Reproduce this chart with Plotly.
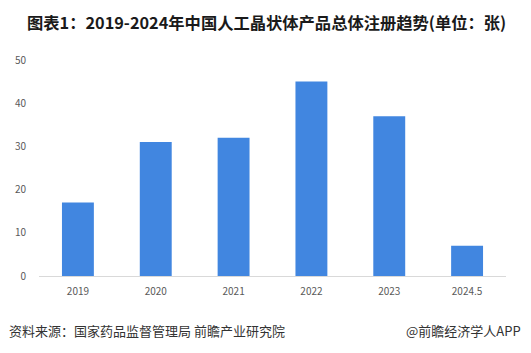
import plotly.graph_objects as go

categories = ["2019", "2020", "2021", "2022", "2023", "2024.5"]
values = [17, 31, 32, 45, 37, 7]
y_ticks = [0, 10, 20, 30, 40, 50]

font_cjk = "Microsoft YaHei, Noto Sans CJK SC, sans-serif"

W, H = 531, 353
L, R, T, B = 39, 25, 60, 77
pw, ph = W - L - R, H - T - B


def px(x):
    return (x - L) / pw


def py(y):
    return (H - B - y) / ph


fig = go.Figure(go.Bar(
    x=categories, y=values,
    marker=dict(color="#4186E0", line=dict(width=0)),
))

fig.update_layout(
    width=W, height=H,
    margin=dict(l=L, r=R, t=T, b=B),
    paper_bgcolor="white", plot_bgcolor="white",
    bargap=0.59,
    showlegend=False,
    font=dict(family=font_cjk, color="#595959", size=10),
    xaxis=dict(
        type="category", showgrid=False, showline=True, linecolor="#D9D9D9",
        linewidth=1, ticks="", tickfont=dict(size=10, color="#595959"),
        ticklabelstandoff=6,
    ),
    yaxis=dict(
        range=[0, 50], tickvals=y_ticks, showgrid=False, zeroline=False,
        showline=False, ticks="", tickfont=dict(size=10, color="#595959"),
        ticklabelstandoff=12,
    ),
    annotations=[
        dict(text="<b>图表1：2019-2024年中国人工晶状体产品总体注册趋势(单位：张)</b>",
             x=px(266), xref="paper", xanchor="center", y=py(22), yref="paper",
             yanchor="middle", showarrow=False,
             font=dict(size=16.3, color="#1a1a1a", family=font_cjk)),
        dict(text="资料来源：国家药品监督管理局 前瞻产业研究院",
             x=px(7), xref="paper", xanchor="left",
             y=py(330), yref="paper", yanchor="middle", showarrow=False,
             font=dict(size=13, color="#333333", family=font_cjk)),
        dict(text="@前瞻经济学人APP",
             x=px(523), xref="paper", xanchor="right", y=py(330), yref="paper",
             yanchor="middle", showarrow=False,
             font=dict(size=13, color="#333333", family=font_cjk)),
    ],
)

fig.write_html("out.html")
